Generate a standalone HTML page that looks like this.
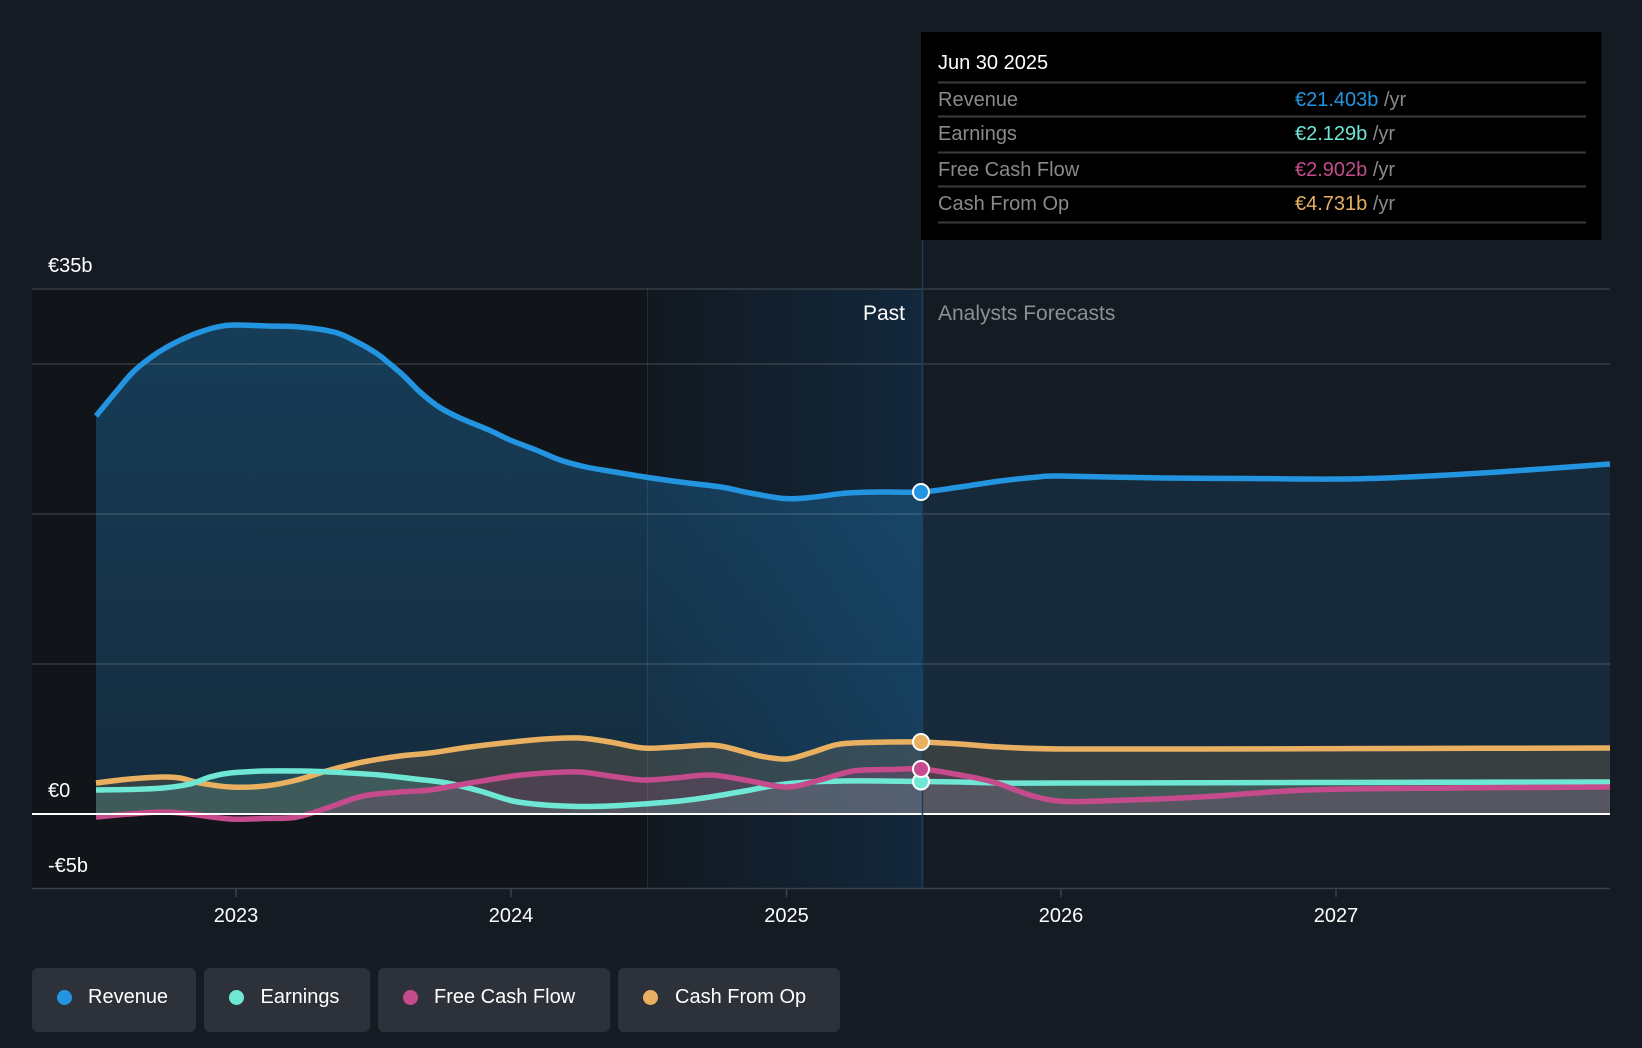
<!DOCTYPE html>
<html>
<head>
<meta charset="utf-8">
<style>
  html, body { margin:0; padding:0; background:#151b23; }
  body { width:1642px; height:1048px; overflow:hidden; position:relative; font-family:"Liberation Sans", Arial, sans-serif; }
  svg { position:absolute; left:0; top:0; }
  .legend { position:absolute; top:968px; height:64px; background:#2d3139; border-radius:6px; color:#fff; font-size:20px; line-height:58px; box-sizing:border-box; }
  .legend .dot { position:absolute; top:21.5px; width:15px; height:15px; border-radius:50%; }
  .legend .lbl { position:absolute; top:0; white-space:nowrap; }
</style>
</head>
<body>
<svg id="chart" width="1642" height="1048" viewBox="0 0 1642 1048" xmlns="http://www.w3.org/2000/svg" font-family="Liberation Sans, Arial, sans-serif">
  <defs>
    <linearGradient id="hl" x1="0" y1="0" x2="1" y2="0">
      <stop offset="0" stop-color="#111820"/>
      <stop offset="1" stop-color="#13283c"/>
    </linearGradient>
    <linearGradient id="revPast" gradientUnits="userSpaceOnUse" x1="0" y1="320" x2="0" y2="814">
      <stop offset="0" stop-color="#2394df" stop-opacity="0.32"/>
      <stop offset="1" stop-color="#2394df" stop-opacity="0.18"/>
    </linearGradient>
    <clipPath id="clipPast"><rect x="0" y="0" width="922" height="1048"/></clipPath>
    <clipPath id="clipFut"><rect x="922" y="0" width="720" height="1048"/></clipPath>
  </defs>
  <rect x="0" y="0" width="1642" height="1048" fill="#151b23"/>
  <!-- past dark region -->
  <rect x="32" y="289" width="615" height="599" fill="#111419"/>
  <!-- highlight region -->
  <rect x="647" y="289" width="275.5" height="599" fill="url(#hl)"/>
  <line x1="647.5" y1="289" x2="647.5" y2="888" stroke="#1a3045" stroke-width="1"/>

  <g id="fills"></g>

  <!-- gridlines -->
  <g stroke="#ffffff" stroke-opacity="0.15" stroke-width="1.5">
    <line x1="32" y1="289" x2="1610" y2="289"/>
    <line x1="32" y1="364" x2="1610" y2="364"/>
    <line x1="32" y1="514" x2="1610" y2="514"/>
    <line x1="32" y1="664" x2="1610" y2="664"/>
  </g>

  <g id="lines"></g>

  <!-- zero line and axis -->
  <line x1="32" y1="814" x2="1610" y2="814" stroke="#ffffff" stroke-width="2"/>
  <line x1="32" y1="888.5" x2="1610" y2="888.5" stroke="#3c4149" stroke-width="1.5"/>
  <g stroke="#3c4149" stroke-width="1.5">
    <line x1="236" y1="888" x2="236" y2="897"/>
    <line x1="511" y1="888" x2="511" y2="897"/>
    <line x1="786.5" y1="888" x2="786.5" y2="897"/>
    <line x1="1061" y1="888" x2="1061" y2="897"/>
    <line x1="1336" y1="888" x2="1336" y2="897"/>
  </g>

  <!-- present vertical line -->
  <line x1="922.5" y1="240" x2="922.5" y2="888" stroke="#1f3d5a" stroke-width="1.5"/>

  <!-- markers -->
  <circle cx="921" cy="492" r="8" fill="#2394df" stroke="#ffffff" stroke-width="2"/>
  <circle cx="921" cy="781.5" r="8" fill="#6ee7d5" stroke="#ffffff" stroke-width="2"/>
  <circle cx="921" cy="769" r="8" fill="#c54b8c" stroke="#ffffff" stroke-width="2"/>
  <circle cx="921" cy="742" r="8" fill="#e8b060" stroke="#ffffff" stroke-width="2"/>

  <!-- y labels -->
  <g fill="#ffffff" font-size="20">
    <text x="48" y="272">€35b</text>
    <text x="48" y="797">€0</text>
    <text x="48" y="872">-€5b</text>
  </g>
  <!-- x labels -->
  <g fill="#ffffff" font-size="20" text-anchor="middle">
    <text x="236" y="922">2023</text>
    <text x="511" y="922">2024</text>
    <text x="786.5" y="922">2025</text>
    <text x="1061" y="922">2026</text>
    <text x="1336" y="922">2027</text>
  </g>

  <text x="905" y="320" fill="#ffffff" font-size="21" text-anchor="end">Past</text>
  <text x="938" y="320" fill="#8b8f96" font-size="21">Analysts Forecasts</text>

  <!-- tooltip -->
  <rect x="921" y="32" width="680.5" height="208" fill="#000000"/>
  <text x="938" y="69" fill="#ffffff" font-size="20">Jun 30 2025</text>
  <g stroke="#3b3b3b" stroke-width="2">
    <line x1="938" y1="82.5" x2="1586" y2="82.5"/>
    <line x1="938" y1="116.5" x2="1586" y2="116.5"/>
    <line x1="938" y1="152.5" x2="1586" y2="152.5"/>
    <line x1="938" y1="186.5" x2="1586" y2="186.5"/>
    <line x1="938" y1="222.5" x2="1586" y2="222.5"/>
  </g>
  <g font-size="20" fill="#8a8a8a">
    <text x="938" y="106">Revenue</text>
    <text x="938" y="140">Earnings</text>
    <text x="938" y="176">Free Cash Flow</text>
    <text x="938" y="210">Cash From Op</text>
    <text x="1295" y="106"><tspan fill="#2394df">€21.403b</tspan> /yr</text>
    <text x="1295" y="140"><tspan fill="#6ee7d5">€2.129b</tspan> /yr</text>
    <text x="1295" y="176"><tspan fill="#c54b8c">€2.902b</tspan> /yr</text>
    <text x="1295" y="210"><tspan fill="#e8b060">€4.731b</tspan> /yr</text>
  </g>
</svg>

<div class="legend" style="left:32px;width:164px;"><span class="dot" style="left:24.5px;background:#2394df"></span><span class="lbl" style="left:56px">Revenue</span></div>
<div class="legend" style="left:204px;width:166px;"><span class="dot" style="left:24.5px;background:#6ee7d5"></span><span class="lbl" style="left:56.5px">Earnings</span></div>
<div class="legend" style="left:378px;width:232px;"><span class="dot" style="left:24.5px;background:#c54b8c"></span><span class="lbl" style="left:56px">Free Cash Flow</span></div>
<div class="legend" style="left:618px;width:222px;"><span class="dot" style="left:24.5px;background:#e8b060"></span><span class="lbl" style="left:57px">Cash From Op</span></div>

<script>
(function(){
  var NS = "http://www.w3.org/2000/svg";
  var Y0 = 814;
  var series = [
    {c:"#2394df", rev:true, pts:[[96,416],[115,393],[133,372],[150,358],[167,347],[185,338],[200,332],[217,327],[233,325],[267,326],[300,327],[334,332],[355,341],[376,353],[390,364],[405,377],[420,392],[439,407],[460,418],[489,430],[510,440],[536,450],[560,460],[586,467],[615,472],[645,477],[680,482],[721,487],[750,493],[784,498.5],[810,497.5],[847,493],[880,492],[921,492],[960,487],[1000,481],[1038,477],[1060,476],[1163,478],[1250,478.5],[1342,479],[1409,477],[1498,472],[1610,464]]},
    {c:"#e8b060", fo:0.16, pts:[[96,783],[130,779],[163,777],[180,778],[200,783],[230,787],[265,786],[297,780],[330,770],[363,762],[400,756],[430,753],[470,747],[513,742],[545,739],[580,738],[610,742],[643,748],[675,747],[710,745],[730,748],[760,756],[787,759],[810,753],[835,745],[853,743],[890,742],[921,742],[960,744],[1000,747],[1060,749],[1200,749],[1400,748.5],[1610,748]]},
    {c:"#6ee7d5", fo:0.16, pts:[[96,790],[130,789.5],[163,788],[190,784],[210,777],[230,773],[265,771],[297,771],[330,772],[380,775],[415,779],[447,783],[480,791],[513,801],[545,805],[580,806.5],[610,806],[643,804],[680,801],[710,797],[745,791],[777,785],[810,782],[843,781],[880,781],[921,781.5],[960,782],[1000,783],[1060,783],[1300,782.5],[1610,782]]},
    {c:"#c54b8c", fo:0.16, pts:[[96,817],[130,814],[163,812],[190,814],[230,819],[265,818.5],[297,817],[330,807],[363,796],[400,792],[430,790],[470,783],[513,776],[545,773],[580,772],[610,776],[643,780],[675,778],[710,775],[745,780],[787,787],[820,780],[853,771],[890,769.5],[921,769],[960,775],[993,782],[1030,795],[1059,801],[1100,801],[1200,797],[1308,790],[1450,788],[1610,787]]}
  ];
  function curve(p){
    var d = "M" + p[0][0] + "," + p[0][1];
    for (var i=0;i<p.length-1;i++){
      var p0 = p[i-1]||p[i], p1=p[i], p2=p[i+1], p3=p[i+2]||p[i+1];
      var c1x = p1[0]+(p2[0]-p0[0])/6, c1y = p1[1]+(p2[1]-p0[1])/6;
      var c2x = p2[0]-(p3[0]-p1[0])/6, c2y = p2[1]-(p3[1]-p1[1])/6;
      d += "C"+c1x.toFixed(1)+","+c1y.toFixed(1)+" "+c2x.toFixed(1)+","+c2y.toFixed(1)+" "+p2[0]+","+p2[1];
    }
    return d;
  }
  var fills = document.getElementById("fills");
  var lines = document.getElementById("lines");
  series.forEach(function(s){
    var d = curve(s.pts);
    var last = s.pts[s.pts.length-1], first = s.pts[0];
    var area = d + "L"+last[0]+","+Y0+"L"+first[0]+","+Y0+"Z";
    if (s.rev){
      var f1 = document.createElementNS(NS,"path");
      f1.setAttribute("d", area);
      f1.setAttribute("fill", "url(#revPast)");
      f1.setAttribute("clip-path", "url(#clipPast)");
      fills.appendChild(f1);
      var f2 = document.createElementNS(NS,"path");
      f2.setAttribute("d", area);
      f2.setAttribute("fill", s.c);
      f2.setAttribute("fill-opacity", "0.13");
      f2.setAttribute("clip-path", "url(#clipFut)");
      fills.appendChild(f2);
    } else {
      var f = document.createElementNS(NS,"path");
      f.setAttribute("d", area);
      f.setAttribute("fill", s.c);
      f.setAttribute("fill-opacity", s.fo);
      fills.appendChild(f);
    }
  });
  series.forEach(function(s){
    var l = document.createElementNS(NS,"path");
    l.setAttribute("d", curve(s.pts));
    l.setAttribute("fill","none");
    l.setAttribute("stroke", s.c);
    l.setAttribute("stroke-width","5.5");
    l.setAttribute("stroke-linejoin","round");
    l.setAttribute("stroke-linecap","butt");
    lines.appendChild(l);
  });
})();
</script>
</body>
</html>
